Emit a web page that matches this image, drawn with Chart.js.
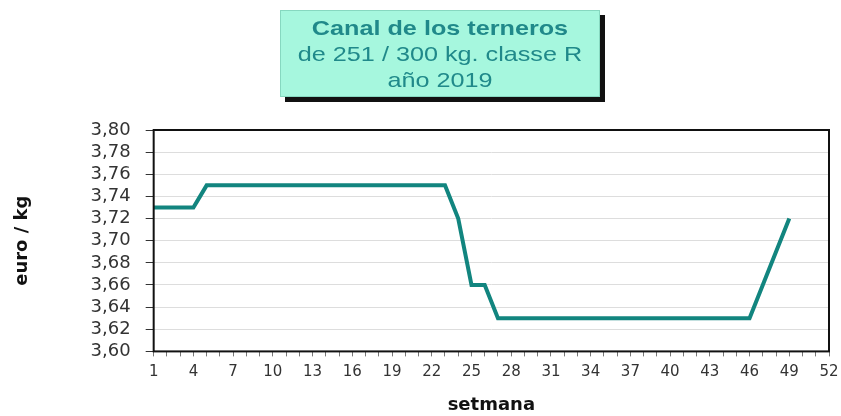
<!DOCTYPE html>
<html>
<head>
<meta charset="utf-8">
<script src="https://cdn.jsdelivr.net/npm/chart.js@4.4.1/dist/chart.umd.min.js"></script>
<style>
    body { margin: 0; background: #fff; }
    #wrap { position: relative; width: 841px; height: 416px; }
    #titleBox {
        position: absolute;
        left: 280px; top: 10px; width: 320px; height: 87px;
        background: #a6f7de;
        border: 1px solid #86d8c0;
        box-shadow: 5px 5px 0 #111;
        box-sizing: border-box;
        padding-top: 4px;
    }
    #titleText {
        color: #20898a;
        font-family: Arial, "Liberation Sans", sans-serif;
        font-size: 21px;
        line-height: 26px;
        text-align: center;
        white-space: nowrap;
        transform: scaleX(1.2);
        transform-origin: center;
    }
</style>
</head>
<body>
<div id="wrap">
    <canvas id="chart" width="841" height="416"></canvas>
    <div id="titleBox"><div id="titleText"><b>Canal de los terneros</b><br>de 251 / 300 kg. classe R<br>año 2019</div></div>
</div>
<script>
// setmanes 1..52
const weeks = [];
for (let i = 1; i <= 52; i++) weeks.push(String(i));

// preu euro/kg, setmanes 1..49
const prices = [
    3.73, 3.73, 3.73, 3.73, 3.75, 3.75, 3.75, 3.75, 3.75, 3.75,
    3.75, 3.75, 3.75, 3.75, 3.75, 3.75, 3.75, 3.75, 3.75, 3.75,
    3.75, 3.75, 3.75, 3.72, 3.66, 3.66, 3.63, 3.63, 3.63, 3.63,
    3.63, 3.63, 3.63, 3.63, 3.63, 3.63, 3.63, 3.63, 3.63, 3.63,
    3.63, 3.63, 3.63, 3.63, 3.63, 3.63, 3.66, 3.69, 3.72
];

const yMin = 3.60;
const yMax = 3.80;
const yStep = 0.02;

const fontFamily = '"DejaVu Sans", Verdana, sans-serif';

const frame = {
    id: 'frame',
    afterDatasetsDraw(chart) {
        const a = chart.chartArea;
        const ctx = chart.ctx;
        ctx.save();
        ctx.strokeStyle = '#111';
        ctx.lineWidth = 2;
        ctx.strokeRect(a.left, a.top, a.right - a.left, a.bottom - a.top);
        ctx.restore();
    }
};

new Chart(document.getElementById('chart'), {
    type: 'line',
    data: {
        labels: weeks,
        datasets: [{
            data: prices,
            borderColor: '#12857f',
            borderWidth: 4,
            pointRadius: 0,
            tension: 0,
            fill: false
        }]
    },
    options: {
        responsive: false,
        animation: false,
        layout: { padding: { top: 130, right: 0, left: 12, bottom: 0 } },
        plugins: {
            legend: { display: false },
            tooltip: { enabled: false }
        },
        scales: {
            x: {
                offset: false,
                afterFit: function(scale) {
                    // the last label may hang into the right margin
                    scale.paddingRight = 12;
                },
                grid: {
                    drawOnChartArea: false,
                    drawTicks: true,
                    tickLength: 5,
                    tickColor: '#777'
                },
                border: { display: false },
                ticks: {
                    autoSkip: false,
                    maxRotation: 0,
                    padding: 7,
                    color: '#333',
                    font: { family: fontFamily, size: 15 },
                    callback: function(value, index) {
                        return index % 3 === 0 ? weeks[index] : '';
                    }
                },
                title: {
                    display: true,
                    text: 'setmana',
                    color: '#111',
                    font: { family: fontFamily, size: 18, weight: 'bold' },
                    padding: { top: 6, bottom: 0 }
                }
            },
            y: {
                min: yMin,
                max: yMax,
                grid: {
                    color: '#dddddd',
                    tickLength: 8,
                    tickColor: '#333'
                },
                border: { display: false },
                ticks: {
                    stepSize: yStep,
                    autoSkip: false,
                    padding: 15,
                    color: '#333',
                    font: { family: fontFamily, size: 18, lineHeight: 1 },
                    callback: function(value) {
                        return value.toFixed(2).replace('.', ',');
                    }
                },
                title: {
                    display: true,
                    text: 'euro / kg',
                    color: '#111',
                    font: { family: fontFamily, size: 18, weight: 'bold' },
                    padding: { top: 0, bottom: 42 }
                }
            }
        }
    },
    plugins: [frame]
});
</script>
</body>
</html>
